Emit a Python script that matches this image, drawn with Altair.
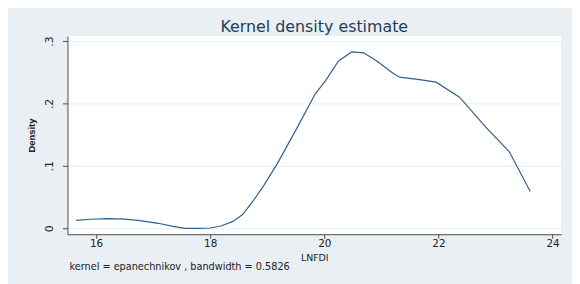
import altair as alt
import pandas as pd

# Kernel density curve (LNFDI vs density)
lnfdi = [15.65, 15.9, 16.22, 16.5, 16.74, 17.09, 17.35, 17.56, 17.8, 18.0,
         18.19, 18.4, 18.57, 18.77, 18.95, 19.18, 19.53, 19.84, 20.02, 20.25,
         20.48, 20.69, 20.92, 21.21, 21.32, 21.67, 21.96, 22.37, 22.83, 23.24,
         23.61]
density = [0.0127, 0.0145, 0.0154, 0.0148, 0.0127, 0.008, 0.003, 0.0, 0.0, 0.0005,
           0.0037, 0.011, 0.022, 0.046, 0.07, 0.104, 0.162, 0.215, 0.236, 0.268,
           0.2825, 0.281, 0.268, 0.248, 0.242, 0.238, 0.234, 0.21, 0.162, 0.123,
           0.059]

x_ticks = [16, 18, 20, 22, 24]
y_ticks = [0, 0.1, 0.2, 0.3]
title_text = "Kernel density estimate"
note_text = "kernel = epanechnikov , bandwidth = 0.5826"

df = pd.DataFrame({"LNFDI": lnfdi, "Density": density})

axis_color = "#4a4a4a"

line = alt.Chart(df).mark_line(color="#34608d", strokeWidth=1.2).encode(
    x=alt.X("LNFDI:Q",
            scale=alt.Scale(domain=[15.5, 24.15], nice=False, zero=False),
            axis=alt.Axis(values=x_ticks, title="LNFDI", grid=False,
                          domainColor=axis_color, tickColor=axis_color,
                          tickSize=4, labelFont="DejaVu Sans", labelFontSize=10.5,
                          labelColor="#222", labelPadding=0,
                          titleFont="DejaVu Sans", titleFontSize=9.5,
                          titleFontWeight="normal", titleColor="#222",
                          titleY=24, titleBaseline="middle")),
    y=alt.Y("Density:Q",
            scale=alt.Scale(domain=[-0.0095, 0.308], nice=False, zero=False),
            axis=alt.Axis(values=y_ticks, title="Density",
                          labelExpr="datum.value == 0 ? '0' : replace(format(datum.value, '.1f'), '0.', '.')",
                          grid=True, gridColor="#e4ecf0",
                          domainColor=axis_color, tickColor=axis_color,
                          tickSize=5, labelAngle=270, labelAlign="center",
                          labelBaseline="bottom", labelPadding=8,
                          labelFont="DejaVu Sans", labelFontSize=11,
                          labelColor="#222",
                          titleFont="Liberation Sans", titleFontSize=9.5,
                          titleFontWeight="bold", titleColor="#222",
                          titlePadding=7)),
)

note = alt.Chart(pd.DataFrame({"t": [note_text]})).mark_text(
    align="left", baseline="middle", font="DejaVu Sans", fontSize=9.8, color="#222"
).encode(x=alt.value(2), y=alt.value(233), text="t:N")

chart = alt.layer(line, note).properties(
    width=498, height=200,
    title=alt.TitleParams(title_text, font="DejaVu Sans", fontSize=16,
                          fontWeight="normal", color="#1e3d5a",
                          anchor="middle", offset=1),
    background="#e9eff3",
    padding={"left": 60, "top": 27, "right": 11, "bottom": 49},
    autosize=alt.AutoSizeParams(type="none"),
).configure_view(fill="white", stroke=None)

chart.save("out.html", embed_options={"renderer": "svg", "actions": False})
